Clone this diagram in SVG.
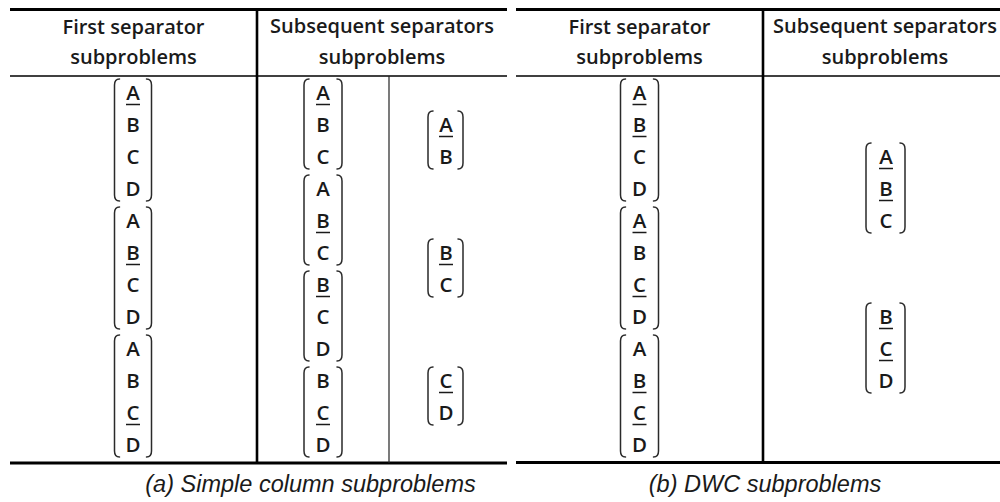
<svg xmlns="http://www.w3.org/2000/svg" width="1000" height="502" viewBox="0 0 1000 502">
  <style>
    .hd { font-family: "Open Sans", "Noto Sans", "Liberation Sans", sans-serif; font-weight: 600; font-size: 20px; fill: #1a1a1a; text-anchor: middle; }
    .lt { font-family: "Open Sans", "Noto Sans", "Liberation Sans", sans-serif; font-weight: 600; font-size: 20.5px; fill: #1a1a1a; text-anchor: middle; }
    .cap { font-family: "Liberation Sans", Arial, sans-serif; font-style: italic; font-size: 23.5px; fill: #1a1a1a; text-anchor: middle; }
    .br { fill: none; stroke: #2a2a2a; stroke-width: 1.5; stroke-linecap: round; }
    .ul { stroke: #1a1a1a; stroke-width: 1.5; }
    .thick { stroke: #000; stroke-width: 3; }
    .mid { stroke: #000; stroke-width: 1.6; }
    .vthick { stroke: #000; stroke-width: 2.6; }
    .vthin { stroke: #222; stroke-width: 1.2; }
  </style>

  <rect width="1000" height="502" fill="#fff"/>

  <!-- table rules -->
  <g id="rules">
    <!-- table (a) -->
    <line class="thick" x1="10" y1="9.5" x2="507" y2="9.5"/>
    <line class="mid" x1="10" y1="76" x2="507" y2="76"/>
    <line class="thick" x1="10" y1="463" x2="507" y2="463"/>
    <line class="vthick" x1="257" y1="9" x2="257" y2="463"/>
    <line class="vthin" x1="389" y1="76" x2="389" y2="463"/>
    <!-- table (b) -->
    <line class="thick" x1="516" y1="9.5" x2="1000" y2="9.5"/>
    <line class="mid" x1="516" y1="76" x2="1000" y2="76"/>
    <line class="thick" x1="516" y1="462.5" x2="1000" y2="462.5"/>
    <line class="vthick" x1="763" y1="9" x2="763" y2="462.5"/>
  </g>

  <!-- headers -->
  <g id="headers">
    <text class="hd" x="133.5" y="34">First separator</text>
    <text class="hd" x="133.5" y="64">subproblems</text>
    <text class="hd" x="382" y="33">Subsequent separators</text>
    <text class="hd" x="382" y="64">subproblems</text>
    <text class="hd" x="639.5" y="34">First separator</text>
    <text class="hd" x="639.5" y="64">subproblems</text>
    <text class="hd" x="885" y="33">Subsequent separators</text>
    <text class="hd" x="885" y="64">subproblems</text>
  </g>

  <!-- (a) first separator column, cx = 133 -->
  <g id="a-first-1">
    <path class="br" d="M119.5,79 Q114.5,79 114.5,85 V195 Q114.5,201 119.5,201 M146.5,79 Q151.5,79 151.5,85 V195 Q151.5,201 146.5,201"/>
    <text class="lt" x="133" y="100">A</text><line class="ul" x1="126" y1="104.5" x2="140" y2="104.5"/>
    <text class="lt" x="133" y="132">B</text>
    <text class="lt" x="133" y="164">C</text>
    <text class="lt" x="133" y="196">D</text>
  </g>
  <g id="a-first-2">
    <path class="br" d="M119.5,207 Q114.5,207 114.5,213 V323 Q114.5,329 119.5,329 M146.5,207 Q151.5,207 151.5,213 V323 Q151.5,329 146.5,329"/>
    <text class="lt" x="133" y="228">A</text>
    <text class="lt" x="133" y="260">B</text><line class="ul" x1="126" y1="264.5" x2="140" y2="264.5"/>
    <text class="lt" x="133" y="292">C</text>
    <text class="lt" x="133" y="324">D</text>
  </g>
  <g id="a-first-3">
    <path class="br" d="M119.5,335 Q114.5,335 114.5,341 V451 Q114.5,457 119.5,457 M146.5,335 Q151.5,335 151.5,341 V451 Q151.5,457 146.5,457"/>
    <text class="lt" x="133" y="356">A</text>
    <text class="lt" x="133" y="388">B</text>
    <text class="lt" x="133" y="420">C</text><line class="ul" x1="126" y1="424.5" x2="140" y2="424.5"/>
    <text class="lt" x="133" y="452">D</text>
  </g>

  <!-- (a) subsequent separators, left sub-column, cx = 323 -->
  <g id="a-sub-1">
    <path class="br" d="M309,79 Q304,79 304,85 V163 Q304,169 309,169 M337,79 Q342,79 342,85 V163 Q342,169 337,169"/>
    <text class="lt" x="323" y="100">A</text><line class="ul" x1="316" y1="104.5" x2="330" y2="104.5"/>
    <text class="lt" x="323" y="132">B</text>
    <text class="lt" x="323" y="164">C</text>
  </g>
  <g id="a-sub-2">
    <path class="br" d="M309,175 Q304,175 304,181 V259 Q304,265 309,265 M337,175 Q342,175 342,181 V259 Q342,265 337,265"/>
    <text class="lt" x="323" y="196">A</text>
    <text class="lt" x="323" y="228">B</text><line class="ul" x1="316" y1="232.5" x2="330" y2="232.5"/>
    <text class="lt" x="323" y="260">C</text>
  </g>
  <g id="a-sub-3">
    <path class="br" d="M309,271 Q304,271 304,277 V355 Q304,361 309,361 M337,271 Q342,271 342,277 V355 Q342,361 337,361"/>
    <text class="lt" x="323" y="292">B</text><line class="ul" x1="316" y1="296.5" x2="330" y2="296.5"/>
    <text class="lt" x="323" y="324">C</text>
    <text class="lt" x="323" y="356">D</text>
  </g>
  <g id="a-sub-4">
    <path class="br" d="M309,367 Q304,367 304,373 V451 Q304,457 309,457 M337,367 Q342,367 342,373 V451 Q342,457 337,457"/>
    <text class="lt" x="323" y="388">B</text>
    <text class="lt" x="323" y="420">C</text><line class="ul" x1="316" y1="424.5" x2="330" y2="424.5"/>
    <text class="lt" x="323" y="452">D</text>
  </g>

  <!-- (a) subsequent separators, right sub-column, cx = 446 -->
  <g id="a-pair-1">
    <path class="br" d="M433,111 Q428,111 428,117 V163 Q428,169 433,169 M458,111 Q463,111 463,117 V163 Q463,169 458,169"/>
    <text class="lt" x="446" y="132">A</text><line class="ul" x1="439" y1="136.5" x2="453" y2="136.5"/>
    <text class="lt" x="446" y="164">B</text>
  </g>
  <g id="a-pair-2">
    <path class="br" d="M433,239 Q428,239 428,245 V291 Q428,297 433,297 M458,239 Q463,239 463,245 V291 Q463,297 458,297"/>
    <text class="lt" x="446" y="260">B</text><line class="ul" x1="439" y1="264.5" x2="453" y2="264.5"/>
    <text class="lt" x="446" y="292">C</text>
  </g>
  <g id="a-pair-3">
    <path class="br" d="M433,367 Q428,367 428,373 V419 Q428,425 433,425 M458,367 Q463,367 463,373 V419 Q463,425 458,425"/>
    <text class="lt" x="446" y="388">C</text><line class="ul" x1="439" y1="392.5" x2="453" y2="392.5"/>
    <text class="lt" x="446" y="420">D</text>
  </g>

  <!-- (b) first separator column, cx = 639.5 -->
  <g id="b-first-1">
    <path class="br" d="M625.5,79 Q620.5,79 620.5,85 V195 Q620.5,201 625.5,201 M653.5,79 Q658.5,79 658.5,85 V195 Q658.5,201 653.5,201"/>
    <text class="lt" x="639.5" y="100">A</text><line class="ul" x1="632.5" y1="104.5" x2="646.5" y2="104.5"/>
    <text class="lt" x="639.5" y="132">B</text><line class="ul" x1="632.5" y1="136.5" x2="646.5" y2="136.5"/>
    <text class="lt" x="639.5" y="164">C</text>
    <text class="lt" x="639.5" y="196">D</text>
  </g>
  <g id="b-first-2">
    <path class="br" d="M625.5,207 Q620.5,207 620.5,213 V323 Q620.5,329 625.5,329 M653.5,207 Q658.5,207 658.5,213 V323 Q658.5,329 653.5,329"/>
    <text class="lt" x="639.5" y="228">A</text><line class="ul" x1="632.5" y1="232.5" x2="646.5" y2="232.5"/>
    <text class="lt" x="639.5" y="260">B</text>
    <text class="lt" x="639.5" y="292">C</text><line class="ul" x1="632.5" y1="296.5" x2="646.5" y2="296.5"/>
    <text class="lt" x="639.5" y="324">D</text>
  </g>
  <g id="b-first-3">
    <path class="br" d="M625.5,335 Q620.5,335 620.5,341 V451 Q620.5,457 625.5,457 M653.5,335 Q658.5,335 658.5,341 V451 Q658.5,457 653.5,457"/>
    <text class="lt" x="639.5" y="356">A</text>
    <text class="lt" x="639.5" y="388">B</text><line class="ul" x1="632.5" y1="392.5" x2="646.5" y2="392.5"/>
    <text class="lt" x="639.5" y="420">C</text><line class="ul" x1="632.5" y1="424.5" x2="646.5" y2="424.5"/>
    <text class="lt" x="639.5" y="452">D</text>
  </g>

  <!-- (b) subsequent separators column, cx = 886 -->
  <g id="b-sub-1">
    <path class="br" d="M871,143 Q866,143 866,149 V227 Q866,233 871,233 M900,143 Q905,143 905,149 V227 Q905,233 900,233"/>
    <text class="lt" x="886" y="164">A</text><line class="ul" x1="879" y1="168.5" x2="893" y2="168.5"/>
    <text class="lt" x="886" y="196">B</text><line class="ul" x1="879" y1="200.5" x2="893" y2="200.5"/>
    <text class="lt" x="886" y="228">C</text>
  </g>
  <g id="b-sub-2">
    <path class="br" d="M871,303 Q866,303 866,309 V387 Q866,393 871,393 M900,303 Q905,303 905,309 V387 Q905,393 900,393"/>
    <text class="lt" x="886" y="324">B</text><line class="ul" x1="879" y1="328.5" x2="893" y2="328.5"/>
    <text class="lt" x="886" y="356">C</text><line class="ul" x1="879" y1="360.5" x2="893" y2="360.5"/>
    <text class="lt" x="886" y="388">D</text>
  </g>

  <!-- captions -->
  <g id="captions">
    <text class="cap" x="310.5" y="492">(a) Simple column subproblems</text>
    <text class="cap" x="765" y="492">(b) DWC subproblems</text>
  </g>
</svg>
